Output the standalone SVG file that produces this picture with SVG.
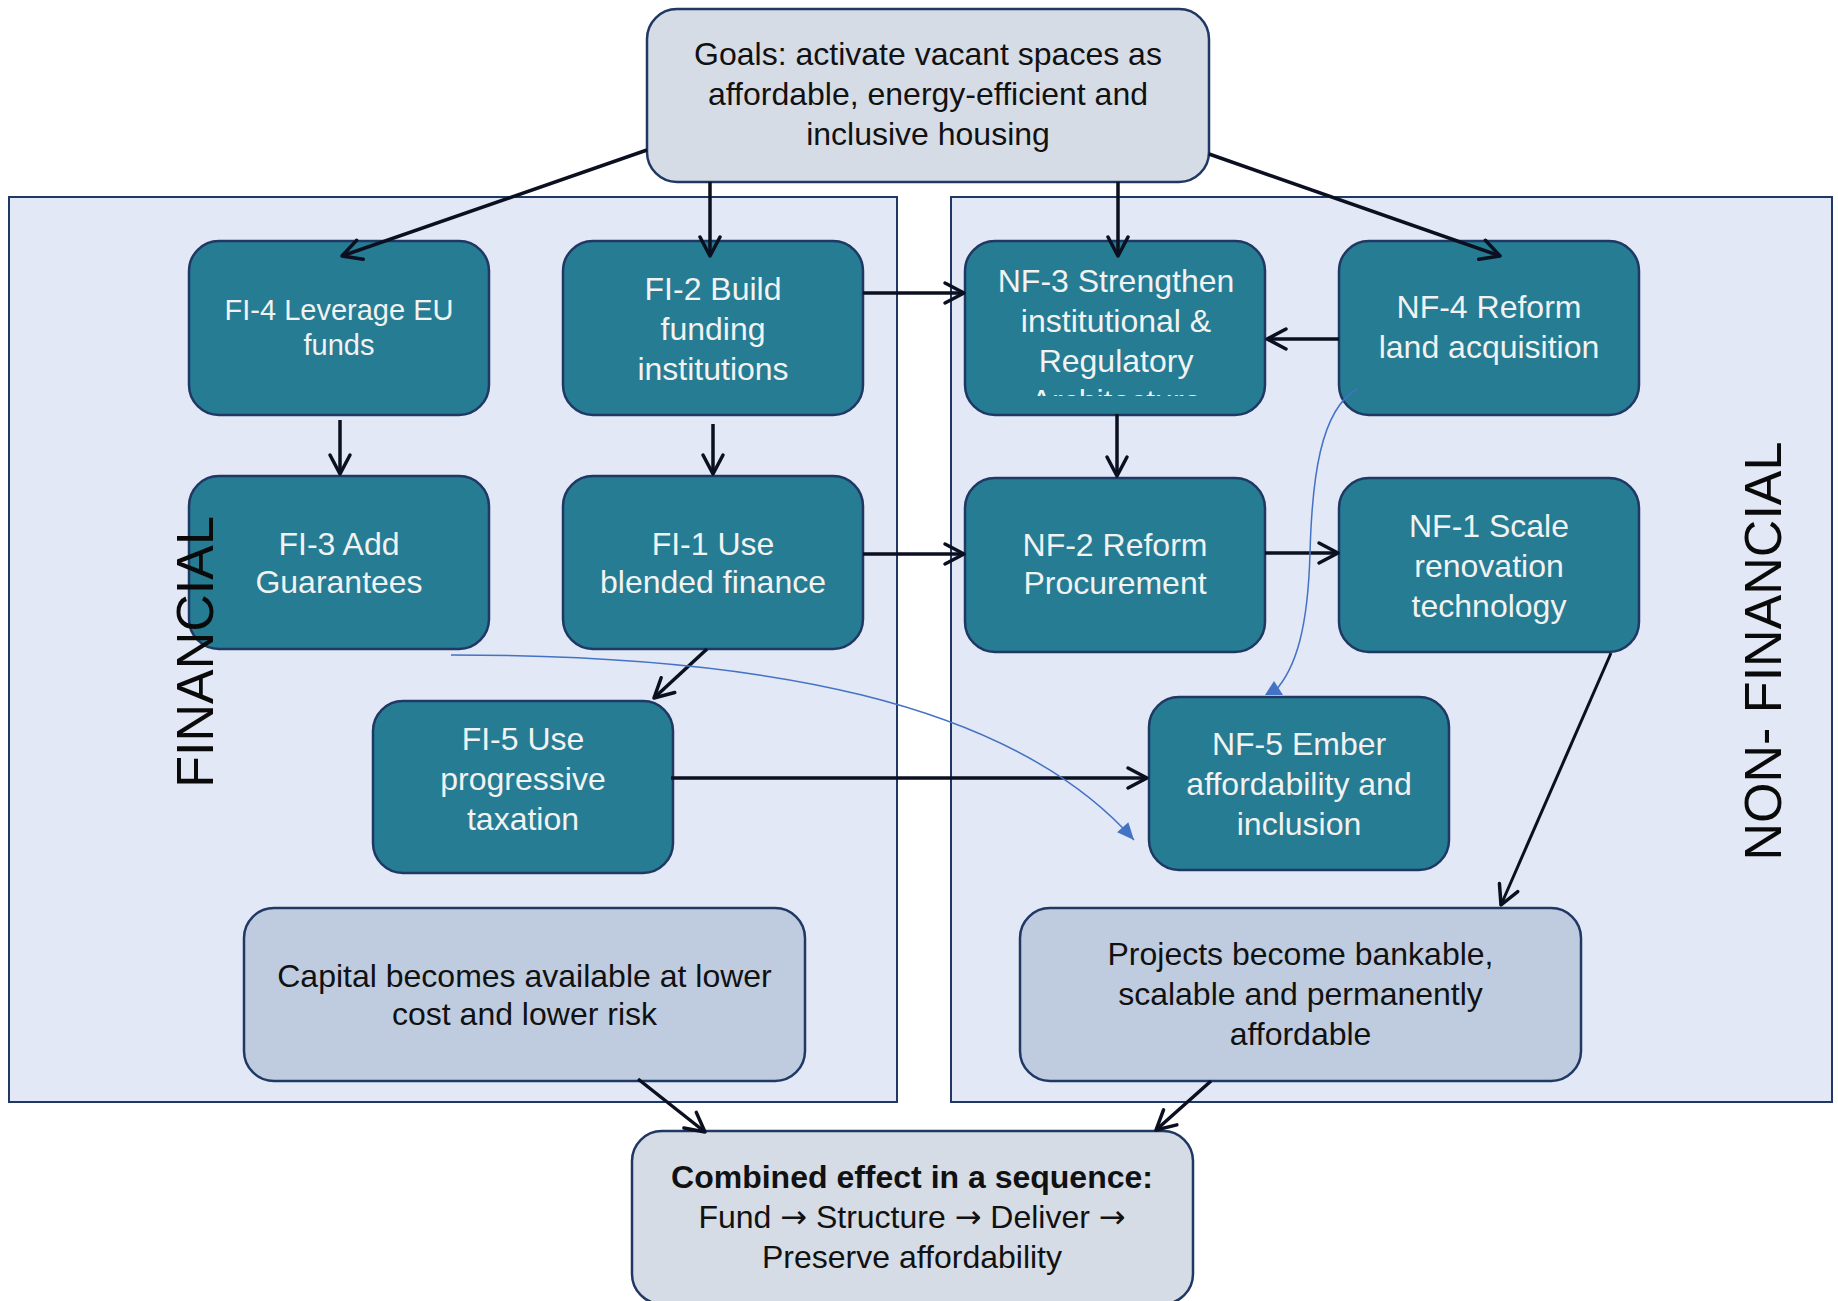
<svg xmlns="http://www.w3.org/2000/svg" width="1838" height="1301" viewBox="0 0 1838 1301">
<style>
.panel{fill:#E2E8F5;stroke:#1F3864;stroke-width:2}
.tn{fill:#257C93;stroke:#1F3864;stroke-width:2.5}
.gn{fill:#D6DCE5;stroke:#1F3864;stroke-width:2.5}
.on{fill:#BFCCE0;stroke:#1F3864;stroke-width:2.5}
.tt{font-family:"Liberation Sans",Arial,sans-serif;font-size:32px;fill:#F2F2F2;text-anchor:middle}
.dt{font-family:"Liberation Sans",Arial,sans-serif;font-size:32px;fill:#111111;text-anchor:middle}
.ar{font-family:"DejaVu Sans",sans-serif}
.lbl{font-family:"Liberation Sans",Arial,sans-serif;font-size:52px;fill:#0A0A0A;text-anchor:middle}
.c{fill:none;stroke:#0B1020;stroke-width:3.5;marker-end:url(#ah)}
.b{fill:none;stroke:#4472C4;stroke-width:1.5}
</style>
<defs>
<marker id="ah" markerUnits="userSpaceOnUse" viewBox="-26 -16 30 32" markerWidth="30" markerHeight="32" refX="0" refY="0" orient="auto" overflow="visible">
<path d="M-19,-10 L0,0 L-19,10" fill="none" stroke="#0B1020" stroke-width="3.5" stroke-linecap="round" stroke-linejoin="round"/>
</marker>
<marker id="bt" markerUnits="userSpaceOnUse" viewBox="-20 -10 22 20" markerWidth="22" markerHeight="20" refX="0" refY="0" orient="auto" overflow="visible">
<path d="M-17,-7.5 L0,0 L-17,7.5 Z" fill="#4472C4"/>
</marker>
<marker id="bu" markerUnits="userSpaceOnUse" viewBox="-6 -10 20 20" markerWidth="20" markerHeight="20" refX="0" refY="0" orient="-90" overflow="visible">
<path d="M-3,-9 L11,0 L-3,9 Z" fill="#4472C4"/>
</marker>
<clipPath id="nf3clip"><rect x="965" y="241" width="300" height="155"/></clipPath>
</defs>

<g id="panel-financial">
<rect class="panel" x="9" y="197" width="888" height="905"/>
</g>
<g id="panel-nonfinancial">
<rect class="panel" x="951" y="197" width="881" height="905"/>
</g>

<g id="goals">
<rect class="gn" x="647" y="9" width="562" height="173" rx="30"/>
<text class="dt" x="928" y="65">Goals: activate vacant spaces as</text>
<text class="dt" x="928" y="105">affordable, energy-efficient and</text>
<text class="dt" x="928" y="145">inclusive housing</text>
</g>

<g id="fi4">
<rect class="tn" x="189" y="241" width="300" height="174" rx="30"/>
<text class="tt" style="font-size:29px" x="339" y="320">FI-4 Leverage EU</text>
<text class="tt" style="font-size:29px" x="339" y="355">funds</text>
</g>
<g id="fi2">
<rect class="tn" x="563" y="241" width="300" height="174" rx="30"/>
<text class="tt" x="713" y="300">FI-2 Build</text>
<text class="tt" x="713" y="340">funding</text>
<text class="tt" x="713" y="380">institutions</text>
</g>
<g id="fi3">
<rect class="tn" x="189" y="476" width="300" height="173" rx="30"/>
<text class="tt" x="339" y="555">FI-3 Add</text>
<text class="tt" x="339" y="593">Guarantees</text>
</g>
<g id="fi1">
<rect class="tn" x="563" y="476" width="300" height="173" rx="30"/>
<text class="tt" x="713" y="555">FI-1 Use</text>
<text class="tt" x="713" y="593">blended finance</text>
</g>
<g id="fi5">
<rect class="tn" x="373" y="701" width="300" height="172" rx="30"/>
<text class="tt" x="523" y="750">FI-5 Use</text>
<text class="tt" x="523" y="790">progressive</text>
<text class="tt" x="523" y="830">taxation</text>
</g>
<g id="nf3">
<rect class="tn" x="965" y="241" width="300" height="174" rx="30"/>
<g clip-path="url(#nf3clip)">
<text class="tt" x="1116" y="292">NF-3 Strengthen</text>
<text class="tt" x="1116" y="332">institutional &amp;</text>
<text class="tt" x="1116" y="372">Regulatory</text>
<text class="tt" x="1116" y="412">Architecture</text>
</g>
</g>
<g id="nf4">
<rect class="tn" x="1339" y="241" width="300" height="174" rx="30"/>
<text class="tt" x="1489" y="318">NF-4 Reform</text>
<text class="tt" x="1489" y="358">land acquisition</text>
</g>
<g id="nf2">
<rect class="tn" x="965" y="478" width="300" height="174" rx="30"/>
<text class="tt" x="1115" y="556">NF-2 Reform</text>
<text class="tt" x="1115" y="594">Procurement</text>
</g>
<g id="nf1">
<rect class="tn" x="1339" y="478" width="300" height="174" rx="30"/>
<text class="tt" x="1489" y="537">NF-1 Scale</text>
<text class="tt" x="1489" y="577">renovation</text>
<text class="tt" x="1489" y="617">technology</text>
</g>
<g id="nf5">
<rect class="tn" x="1149" y="697" width="300" height="173" rx="30"/>
<text class="tt" x="1299" y="755">NF-5 Ember</text>
<text class="tt" x="1299" y="795">affordability and</text>
<text class="tt" x="1299" y="835">inclusion</text>
</g>
<g id="capital">
<rect class="on" x="244" y="908" width="561" height="173" rx="30"/>
<text class="dt" x="524.5" y="987">Capital becomes available at lower</text>
<text class="dt" x="524.5" y="1025">cost and lower risk</text>
</g>
<g id="projects">
<rect class="on" x="1020" y="908" width="561" height="173" rx="30"/>
<text class="dt" x="1300.5" y="965">Projects become bankable,</text>
<text class="dt" x="1300.5" y="1005">scalable and permanently</text>
<text class="dt" x="1300.5" y="1045">affordable</text>
</g>
<g id="combined">
<rect class="gn" x="632" y="1131" width="561" height="173" rx="30"/>
<text class="dt" x="912" y="1188" style="font-weight:bold">Combined effect in a sequence:</text>
<text class="dt" x="912" y="1228">Fund <tspan class="ar">→</tspan> Structure <tspan class="ar">→</tspan> Deliver <tspan class="ar">→</tspan></text>
<text class="dt" x="912" y="1268">Preserve affordability</text>
</g>

<g id="labels">
<text class="lbl" transform="translate(213,652) rotate(-90)">FINANCIAL</text>
<text class="lbl" transform="translate(1781,651) rotate(-90)">NON- FINANCIAL</text>
</g>

<g id="connectors">
<path class="c" d="M647,150 L342,256"/>
<path class="c" d="M710,182 L710,256"/>
<path class="c" d="M1118,182 L1118,256"/>
<path class="c" d="M1209,154 L1500,256"/>
<path class="c" d="M340,420 L340,474"/>
<path class="c" d="M713,424 L713,474"/>
<path class="c" d="M863,293 L964,293"/>
<path class="c" d="M863,554 L964,554"/>
<path class="c" d="M707,649 L654,698"/>
<path class="c" d="M671,778 L1147,778"/>
<path class="c" d="M1339,339 L1267,339"/>
<path class="c" d="M1117,414 L1117,476"/>
<path class="c" d="M1265,553 L1338,553"/>
<path class="c" style="stroke-width:3" d="M1611,653 L1501,905"/>
<path class="c" d="M638,1079 L705,1132"/>
<path class="c" d="M1211,1081 L1156,1130"/>
<path class="b" marker-end="url(#bt)" d="M451,655 C760,655 1010,700 1134,840"/>
<path class="b" marker-end="url(#bu)" d="M1357,389 C1320,410 1312,480 1310,553 C1308,625 1297,668 1274,692"/>
</g>
</svg>
